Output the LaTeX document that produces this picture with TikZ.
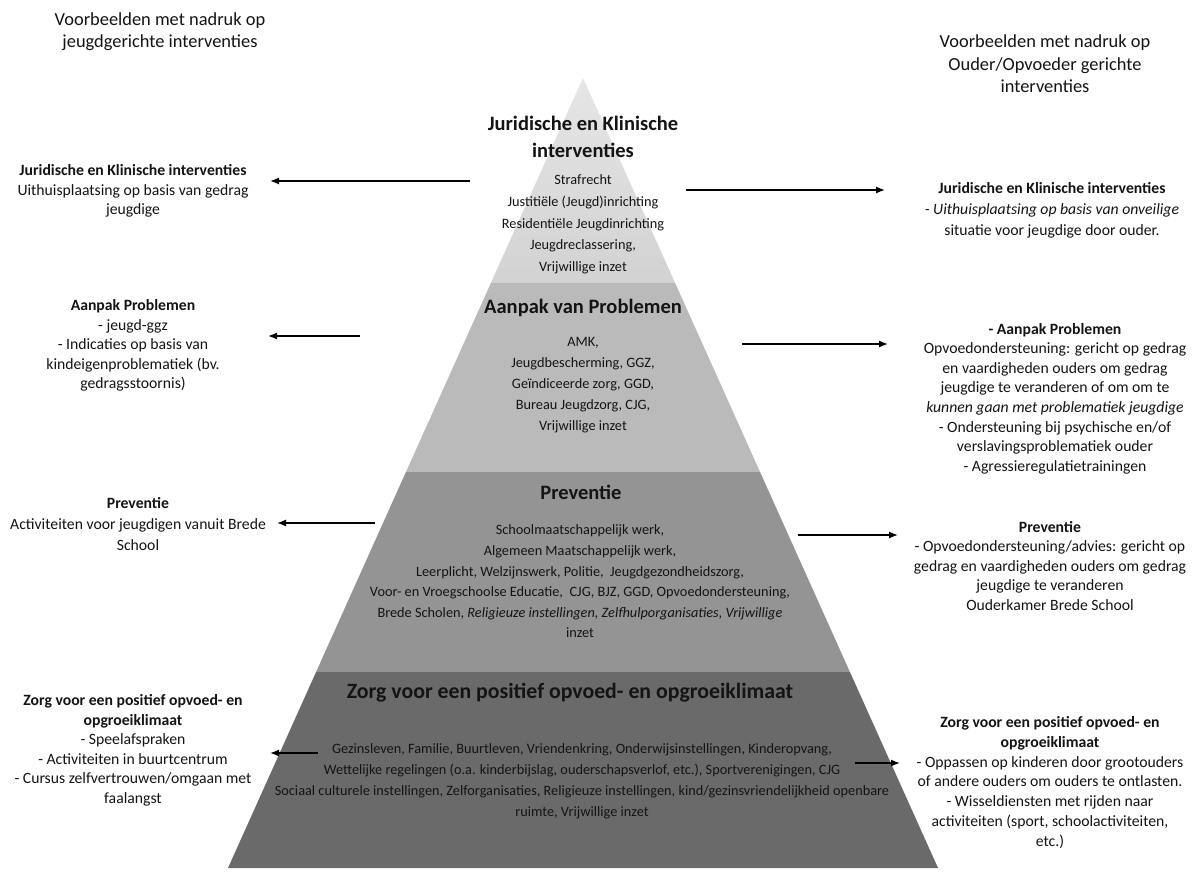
\documentclass[tikz,border=0pt]{standalone}
\usepackage{fontspec}
\setmainfont{Carlito}
\usetikzlibrary{arrows.meta}
\definecolor{bandA}{HTML}{D2D2D2}
\definecolor{bandAtop}{HTML}{E6E6E6}
\definecolor{bandB}{HTML}{BABABA}
\definecolor{bandC}{HTML}{949494}
\definecolor{bandD}{HTML}{6A6A6A}
\definecolor{txt}{HTML}{141414}
\begin{document}
\begin{tikzpicture}[x=1pt,y=-1pt,
  hdr/.style={align=center,inner sep=0pt,text=txt,font=\fontsize{18.4}{22.5}\selectfont},
  ptitle/.style={align=center,inner sep=0pt,text=txt,font=\bfseries\fontsize{20.5}{27}\selectfont},
  pitems/.style={align=center,inner sep=0pt,text=txt,font=\fontsize{14.3}{21}\selectfont},
  side/.style={align=center,inner sep=0pt,text=txt,font=\fontsize{15.7}{19.5}\selectfont},
  arr/.style={-{Latex[length=9pt,width=7pt]},line width=1.3pt,black}]
\useasboundingbox (0,0) rectangle (1197,874);
\fill[white] (0,0) rectangle (1197,874);
% pyramid
\coordinate (apex) at (583,78);
\coordinate (bl) at (228,868);
\coordinate (br) at (938,868);
\begin{scope}
  \clip (apex) -- (bl) -- (br) -- cycle;
  \shade[top color=bandAtop,bottom color=bandA] (200,78) rectangle (1000,283);
  \fill[bandB] (200,283) rectangle (1000,472);
  \fill[bandC] (200,472) rectangle (1000,672);
  \fill[bandD] (200,672) rectangle (1000,870);
\end{scope}
% headers
\node[hdr] (hl) at (160,31.5) {Voorbeelden met nadruk op\\jeugdgerichte interventies};
\node[hdr] (hr) at (1045,64) {Voorbeelden met nadruk op\\Ouder/Opvoeder gerichte\\interventies};
% pyramid texts
\node[ptitle] (t1) at (583,136.5) {Juridische en Klinische\\interventies};
\node[pitems,font=\fontsize{14.3}{21.75}\selectfont] (i1) at (583,224.5) {Strafrecht\\Justitiële (Jeugd)inrichting\\Residentiële Jeugdinrichting\\Jeugdreclassering,\\Vrijwillige inzet};
\node[ptitle] (t2) at (583,308) {Aanpak van Problemen};
\node[pitems] (i2) at (583,385) {AMK,\\Jeugdbescherming, GGZ,\\Geïndiceerde zorg, GGD,\\Bureau Jeugdzorg, CJG,\\Vrijwillige inzet};
\node[ptitle] (t3) at (581,492) {Preventie};
\node[pitems,font=\fontsize{14.3}{20.6}\selectfont] (i3) at (580,581.5) {Schoolmaatschappelijk werk,\\Algemeen Maatschappelijk werk,\\Leerplicht, Welzijnswerk, Politie,\ \ Jeugdgezondheidszorg,\\Voor- en Vroegschoolse Educatie,\ \ CJG, BJZ, GGD, Opvoedondersteuning,\\Brede Scholen, \textit{Religieuze instellingen, Zelfhulporganisaties, Vrijwillige}\\inzet};
\node[ptitle,font=\bfseries\fontsize{21.8}{27}\selectfont] (t4) at (570,693) {Zorg voor een positief opvoed- en opgroeiklimaat};
\node[pitems,font=\fontsize{14.3}{21}\selectfont] (i4) at (582,781.5) {Gezinsleven, Familie, Buurtleven, Vriendenkring, Onderwijsinstellingen, Kinderopvang,\\Wettelijke regelingen (o.a. kinderbijslag, ouderschapsverlof, etc.), Sportverenigingen, CJG\\Sociaal culturele instellingen, Zelforganisaties, Religieuze instellingen, kind/gezinsvriendelijkheid openbare\\ruimte, Vrijwillige inzet};
% left side texts
\node[side] (l1) at (133,191) {\textbf{Juridische en Klinische interventies}\\Uithuisplaatsing op basis van gedrag\\jeugdige};
\node[side] (l2) at (133,345.5) {\textbf{Aanpak Problemen}\\- jeugd-ggz\\- Indicaties op basis van\\kindeigenproblematiek (bv.\\gedragsstoornis)};
\node[side,font=\fontsize{15.7}{21}\selectfont] (l3) at (138,524.5) {\textbf{Preventie}\\Activiteiten voor jeugdigen vanuit Brede\\School};
\node[side] (l4) at (133,750.5) {\textbf{Zorg voor een positief opvoed- en}\\\textbf{opgroeiklimaat}\\- Speelafspraken\\- Activiteiten in buurtcentrum\\- Cursus zelfvertrouwen/omgaan met\\faalangst};
% right side texts
\node[side,font=\fontsize{15.7}{21}\selectfont] (r1) at (1052,210.5) {\textbf{Juridische en Klinische interventies}\\\textit{- Uithuisplaatsing op basis van onveilige}\\situatie voor jeugdige door ouder.};
\node[side,font=\fontsize{15.7}{19.6}\selectfont] (r2) at (1055,398.5) {\textbf{- Aanpak Problemen}\\Opvoedondersteuning: gericht op gedrag\\en vaardigheden ouders om gedrag\\jeugdige te veranderen of om om te\\\textit{kunnen gaan met problematiek jeugdige}\\- Ondersteuning bij psychische en/of\\verslavingsproblematiek ouder\\- Agressieregulatietrainingen};
\node[side] (r3) at (1050,566) {\textbf{Preventie}\\- Opvoedondersteuning/advies: gericht op\\gedrag en vaardigheden ouders om gedrag\\jeugdige te veranderen\\Ouderkamer Brede School};
\node[side,font=\fontsize{15.7}{19.8}\selectfont] (r4) at (1050,782.5) {\textbf{Zorg voor een positief opvoed- en}\\\textbf{opgroeiklimaat}\\- Oppassen op kinderen door grootouders\\of andere ouders om ouders te ontlasten.\\- Wisseldiensten met rijden naar\\activiteiten (sport, schoolactiviteiten,\\etc.)};
% arrows
\coordinate (a1s) at (470,181); \coordinate (a1e) at (270,181);
\coordinate (a2s) at (360,336); \coordinate (a2e) at (268,336);
\coordinate (a3s) at (375,523); \coordinate (a3e) at (277,523);
\coordinate (a4s) at (318,753); \coordinate (a4e) at (270,753);
\coordinate (b1s) at (686,190); \coordinate (b1e) at (885,190);
\coordinate (b2s) at (742,344); \coordinate (b2e) at (888,344);
\coordinate (b3s) at (798,535); \coordinate (b3e) at (898,535);
\coordinate (b4s) at (855,763); \coordinate (b4e) at (900,763);
\draw[arr] (a1s) -- (a1e);
\draw[arr] (a2s) -- (a2e);
\draw[arr] (a3s) -- (a3e);
\draw[arr] (a4s) -- (a4e);
\draw[arr] (b1s) -- (b1e);
\draw[arr] (b2s) -- (b2e);
\draw[arr] (b3s) -- (b3e);
\draw[arr] (b4s) -- (b4e);
\end{tikzpicture}
\end{document}
